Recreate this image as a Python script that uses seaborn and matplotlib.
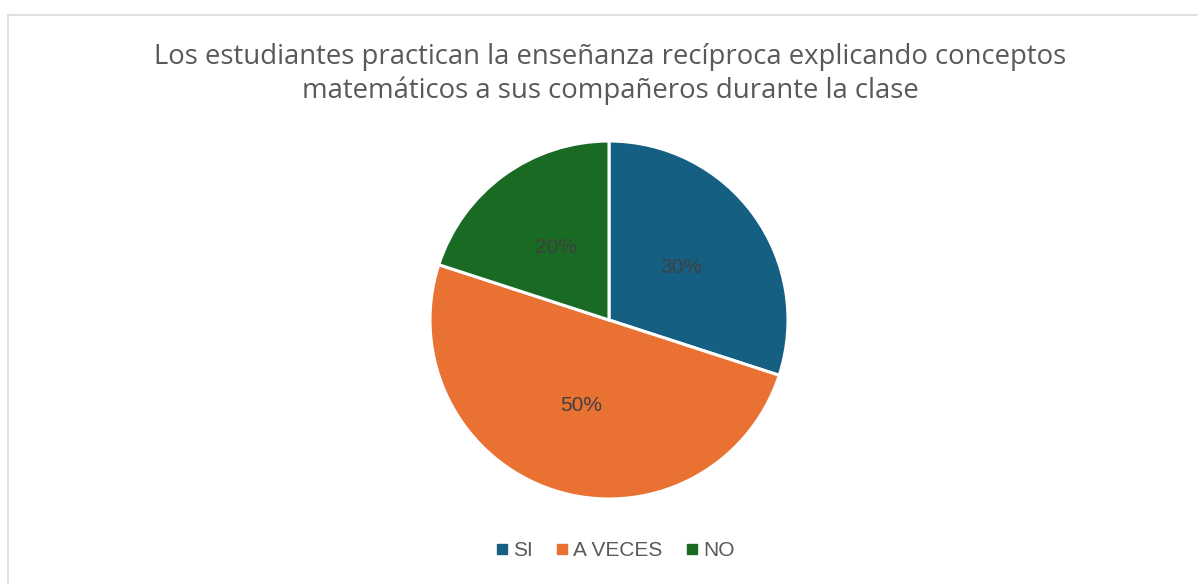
import matplotlib
matplotlib.use("Agg")
import matplotlib.pyplot as plt
import seaborn as sns
from matplotlib.lines import Line2D

# Data
categories = ["SI", "A VECES", "NO"]
values = [30, 50, 20]
colors = ["#156082", "#E97132", "#196B24"]
title = ("Los estudiantes practican la enseñanza recíproca explicando conceptos\n"
         "matemáticos a sus compañeros durante la clase")

sns.set_theme(style="white")
plt.rcParams["font.family"] = ["Liberation Sans", "DejaVu Sans"]

W, H = 1198, 584
fig = plt.figure(figsize=(W / 100, H / 100), dpi=100)
fig.patch.set_facecolor("white")

# pie axes, centred at (609, 320) px with radius ~179 px
cx, cy, r = 609, 320, 179
ax = fig.add_axes([(cx - r) / W, (H - cy - r) / H, 2 * r / W, 2 * r / H])
wedges, _, autotexts = ax.pie(
    values,
    colors=colors,
    startangle=90,
    counterclock=False,
    autopct="%1.0f%%",
    pctdistance=0.5,
    wedgeprops=dict(edgecolor="white", linewidth=2.2),
    textprops=dict(color="#404040", fontsize=15),
)
ax.set_aspect("equal")
ax.set_xlim(-1, 1)
ax.set_ylim(-1, 1)
ax.axis("off")

# title
fig.text(610 / W, 1 - 74 / H, title, ha="center", va="center",
         fontsize=19.8, color="#595959", linespacing=1.28,
         family=["Open Sans", "DejaVu Sans"])

# legend
handles = [Line2D([0], [0], marker="s", linestyle="", markersize=6.5,
                  markerfacecolor=c, markeredgecolor=c) for c in colors]
fig.legend(handles, categories, loc="center", bbox_to_anchor=(613 / W, 1 - 551 / H),
           ncol=3, frameon=False, fontsize=15, labelcolor="#595959",
           handletextpad=0.05, columnspacing=0.9, handlelength=1.0)

# chart border (only left and top edges visible)
fig.add_artist(Line2D([7.5 / W, 1197 / W], [1 - 14.5 / H, 1 - 14.5 / H],
                      transform=fig.transFigure, color="#d9d9d9", lw=1.2))
fig.add_artist(Line2D([7.5 / W, 7.5 / W], [0, 1 - 14.5 / H],
                      transform=fig.transFigure, color="#d9d9d9", lw=1.2))

fig.savefig("out.png", dpi=100)
